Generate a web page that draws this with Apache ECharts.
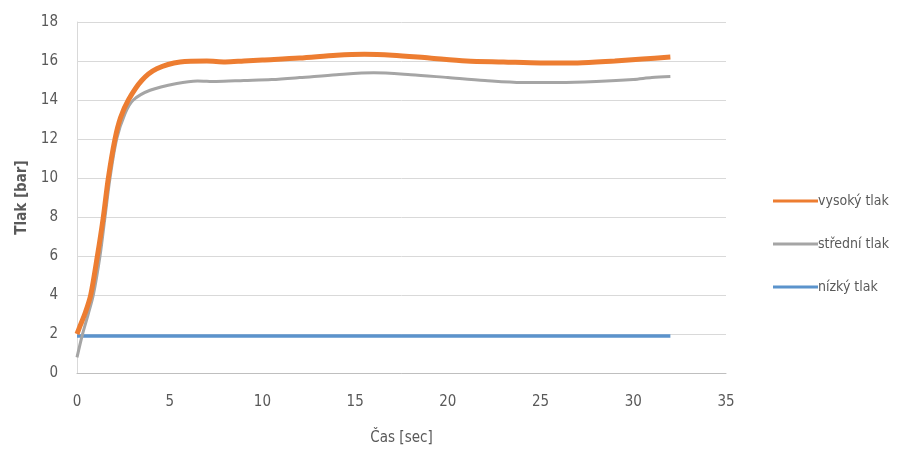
<!DOCTYPE html>
<html>
<head>
<meta charset="utf-8">
<script src="https://cdn.jsdelivr.net/npm/echarts@6/dist/echarts.min.js"></script>
<style>html,body{margin:0;padding:0;background:#fff}#c{width:906px;height:459px}</style>
</head>
<body>
<div id="c"></div>
<script>
// Data (time [s], pressure [bar])
const seriesNames = ['vysoký tlak', 'střední tlak', 'nízký tlak'];
const highT = [0, 0.16, 0.45, 0.74, 1.1, 1.42, 1.69, 2.05, 2.35, 2.77, 3.49, 4.3, 5.56, 7, 8, 9, 10, 12, 14, 15.5, 17, 19, 21, 23, 25, 27, 29, 30.5, 32];
const highV = [2.0, 2.4, 3.1, 4.0, 6.0, 8.0, 10.0, 12.0, 13.1, 14.0, 15.0, 15.6, 15.95, 16.0, 15.95, 16.0, 16.05, 16.15, 16.3, 16.35, 16.3, 16.15, 16.0, 15.95, 15.9, 15.9, 16.0, 16.1, 16.2];
const midT = [0, 0.3, 0.6, 0.88, 1.24, 1.51, 1.78, 2.14, 2.59, 3.04, 3.94, 5.38, 6.5, 7.5, 9, 10.5, 12, 14, 16, 18, 20, 22, 24, 26, 28, 30, 31, 32];
const midV = [0.8, 2.0, 3.0, 4.0, 6.0, 8.0, 10.0, 12.0, 13.3, 14.0, 14.5, 14.85, 14.98, 14.95, 15.0, 15.05, 15.15, 15.3, 15.4, 15.3, 15.15, 15.0, 14.9, 14.9, 14.95, 15.05, 15.15, 15.2];
const lowT = [0, 32];
const lowV = [1.9, 1.9];
const xTicks = [0, 5, 10, 15, 20, 25, 30, 35];
const yTicks = [0, 2, 4, 6, 8, 10, 12, 14, 16, 18];

const zip = (a, b) => a.map((v, i) => [v, b[i]]);
const txt = '#595959';
const font = "'Liberation Sans Narrow', 'DejaVu Sans Condensed', sans-serif";

const chart = echarts.init(document.getElementById('c'));
chart.setOption({
  animation: false,
  grid: { left: 77, right: 180, top: 22, bottom: 86 },
  xAxis: {
    type: 'value', min: xTicks[0], max: xTicks[xTicks.length - 1], interval: 5,
    name: 'Čas [sec]', nameLocation: 'middle', nameGap: 58,
    nameTextStyle: { color: txt, fontSize: 15, fontFamily: font },
    axisLine: { show: true, lineStyle: { color: '#bfbfbf', width: 1 } },
    axisTick: { show: false },
    axisLabel: { color: txt, fontSize: 15, fontFamily: font, margin: 22 },
    splitLine: { show: false }
  },
  yAxis: {
    type: 'value', min: yTicks[0], max: yTicks[yTicks.length - 1], interval: 2,
    name: 'Tlak [bar]', nameLocation: 'middle', nameGap: 47, nameRotate: 90,
    nameTextStyle: { color: txt, fontSize: 15, fontWeight: 'bold', fontFamily: font },
    axisLine: { show: true, lineStyle: { color: '#d9d9d9', width: 1 } },
    axisTick: { show: false },
    axisLabel: { color: txt, fontSize: 15, fontFamily: font, margin: 19 },
    splitLine: { show: true, lineStyle: { color: '#d9d9d9', width: 1 } }
  },
  legend: {
    orient: 'vertical', left: 768, top: 189, itemGap: 29,
    itemWidth: 45, itemHeight: 3, icon: 'rect',
    data: seriesNames,
    textStyle: { color: txt, fontSize: 14, fontFamily: font, padding: [0, 0, 0, -5] }
  },
  series: [
    { name: seriesNames[0], type: 'line', data: zip(highT, highV), showSymbol: false, smooth: 0.3,
      color: '#ED7D31', lineStyle: { width: 5 }, z: 4 },
    { name: seriesNames[1], type: 'line', data: zip(midT, midV), showSymbol: false, smooth: 0.3,
      color: '#A5A5A5', lineStyle: { width: 3 }, z: 3 },
    { name: seriesNames[2], type: 'line', data: zip(lowT, lowV), showSymbol: false,
      color: '#5B93CC', lineStyle: { width: 3.5 }, z: 2 }
  ]
});
</script>
</body>
</html>
